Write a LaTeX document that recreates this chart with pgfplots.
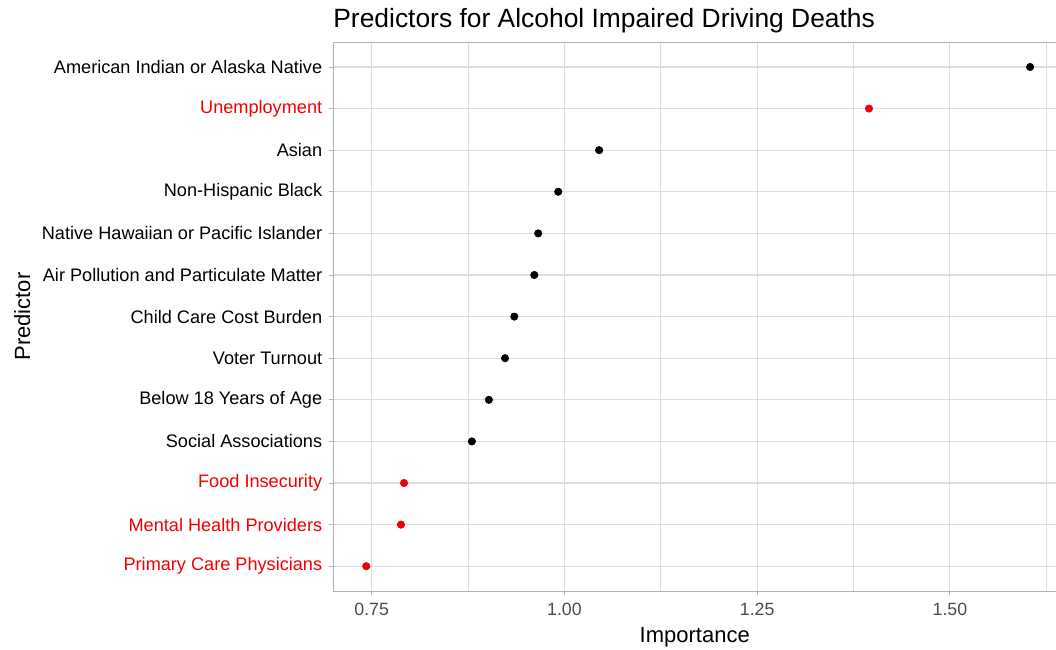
\documentclass[border=0pt]{standalone}
\usepackage{pgfplots}
\pgfplotsset{compat=1.18}
\usepackage{fontspec}
\setmainfont{Liberation Sans}
\definecolor{gridc}{gray}{0.87}
\definecolor{framec}{gray}{0.70}
\definecolor{tickc}{gray}{0.30}
\definecolor{ptred}{RGB}{240,0,0}
\begin{document}
\begin{tikzpicture}
\begin{axis}[
    scale only axis,
    width=542.25pt,
    height=411.75pt,
    xmin=0.700, xmax=1.638,
    ymin=0.4, ymax=13.6,
    xtick={0.75,1,1.25,1.5},
    xticklabels={0.75,1.00,1.25,1.50},
    minor xtick={0.875,1.125,1.375,1.625},
    ytick={1,...,13},
    yticklabels={
        \textcolor{ptred}{Primary Care Physicians},
        \textcolor{ptred}{Mental Health Providers},
        \textcolor{ptred}{Food Insecurity},
        Social Associations,
        Below 18 Years of Age,
        Voter Turnout,
        Child Care Cost Burden,
        Air Pollution and Particulate Matter,
        Native Hawaiian or Pacific Islander,
        Non-Hispanic Black,
        Asian,
        \textcolor{ptred}{Unemployment},
        American Indian or Alaska Native},
    xmajorgrids, xminorgrids, ymajorgrids,
    major grid style={gridc, line width=0.8pt},
    minor grid style={gridc, line width=0.45pt},
    axis line style={framec, line width=0.7pt},
    tick pos=left,
    tick align=outside,
    major tick length=3pt,
    minor tick length=0pt,
    tick style={framec, line width=0.7pt},
    x tick label style={tickc, font=\fontsize{13.3}{15}\selectfont, inner sep=0pt, yshift=-6pt},
    y tick label style={black, font=\fontsize{13.6}{15}\selectfont, inner sep=0pt, xshift=-5pt},
    title={Predictors for Alcohol Impaired Driving Deaths},
    title style={at={(axis description cs:0,1)}, anchor=base west, inner sep=0pt, yshift=5.25pt, font=\fontsize{19.8}{22}\selectfont},
    xlabel={Importance},
    xlabel style={at={(axis description cs:0.5,0)}, anchor=center, inner sep=0pt, yshift=-34.5pt, font=\fontsize{16.5}{18}\selectfont},
    ylabel={Predictor},
    ylabel style={at={(axis description cs:0,0.5)}, anchor=center, inner sep=0pt, yshift=233pt, font=\fontsize{16.5}{18}\selectfont},
]
\addplot[only marks, mark=*, mark size=2.8pt, black] coordinates {
(0.880,4)(0.902,5)(0.923,6)(0.935,7)(0.961,8)(0.966,9)(0.992,10)(1.045,11)(1.604,13)};
\addplot[only marks, mark=*, mark size=2.8pt, ptred, mark options={draw=ptred, fill=ptred}] coordinates {
(0.743,1)(0.788,2)(0.792,3)(1.395,12)};
\end{axis}
\pgfresetboundingbox
\path (-249.75pt,-43.5pt) rectangle (542pt,443.25pt);
\end{tikzpicture}
\end{document}
